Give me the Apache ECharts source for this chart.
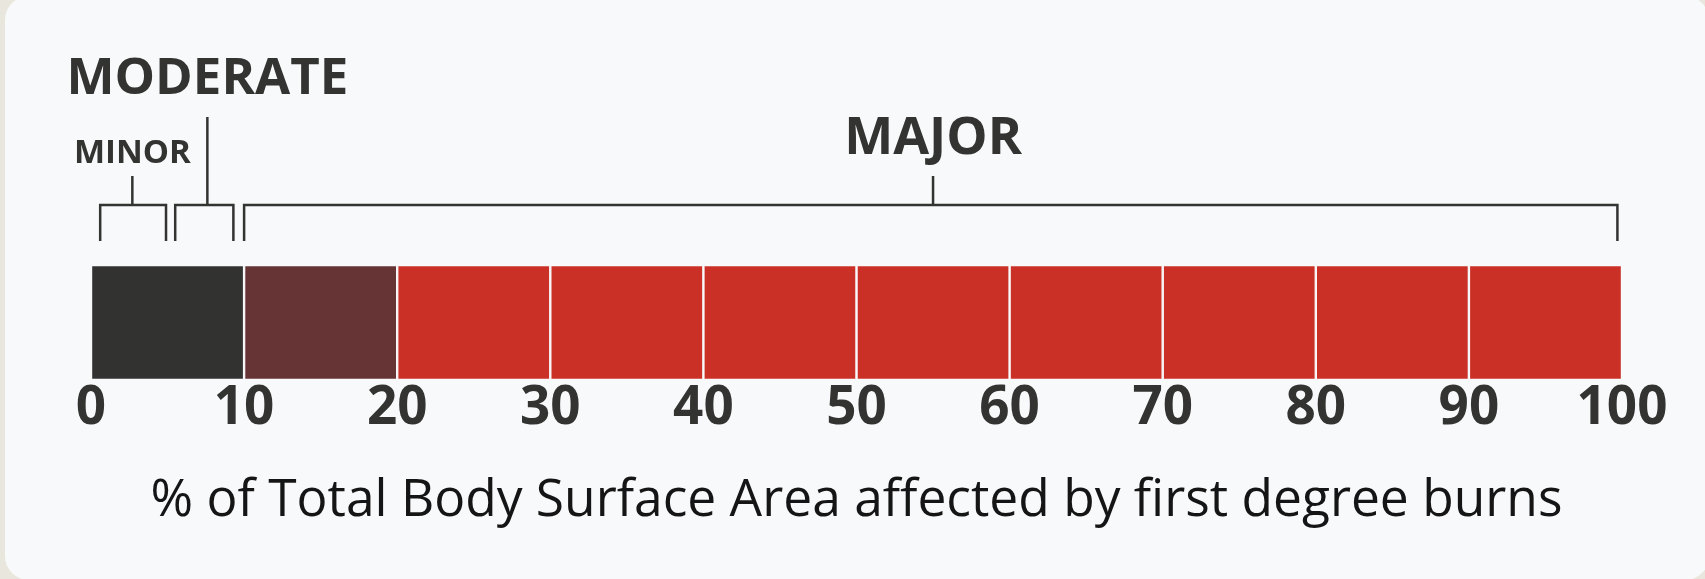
<!DOCTYPE html>
<html>
<head>
<meta charset="utf-8">
<title>Burn severity by TBSA</title>
<script src="https://cdn.jsdelivr.net/npm/echarts@6.0.0/dist/echarts.min.js"></script>
<style>
  html, body { margin: 0; padding: 0; background: #e9e6de; }
  #chart { width: 1705px; height: 579px; }
</style>
</head>
<body>
<div id="chart"></div>
<script>
// scale is split into ten 10% blocks
const segmentValues = [10, 10, 10, 10, 10, 10, 10, 10, 10, 10]
const tickLabels = ['0', '10', '20', '30', '40', '50', '60', '70', '80', '90', '100']

// severity brackets drawn above the scale (in % TBSA)
const bracketNames = ['MINOR', 'MODERATE', 'MAJOR']
const bracketFrom = [0.6, 5.5, 10]
const bracketTo = [4.9, 9.3, 99.7]
const bracketMid = [2.7, 7.6, 55]

const axisTitle = '% of Total Body Surface Area affected by first degree burns'

// styles
const segColor = i => (i === 0 ? '#323230' : i === 1 ? '#663434' : '#cb3027')
const stemLen = [29, 88, 29]
const labelSize = [33, 51, 52]
const labelGap = [22, 38, 37]

let chart = echarts.init(document.getElementById('chart'))

let barSeries = segmentValues.map((v, i) => ({
  type: 'bar',
  stack: 'tbsa',
  data: [v],
  barWidth: '100%',
  silent: true,
  itemStyle: {
    color: segColor(i),
    borderColor: '#f8f9fb',
    borderWidth: 1.2
  }
}))

let bracketSeries = {
  type: 'custom',
  clip: false,
  silent: true,
  encode: { x: [0, 2, 3], y: 1 },
  data: bracketNames.map((n, i) => [bracketFrom[i], 0, bracketTo[i], bracketMid[i], i]),
  renderItem: function (params, api) {
    let i = api.value(4)
    let x0 = api.coord([api.value(0), 0])[0]
    let x1 = api.coord([api.value(2), 0])[0]
    let xm = api.coord([api.value(3), 0])[0]
    let barTop = params.coordSys.y
    let yH = barTop - 60
    let yB = barTop - 24
    let yS = yH - stemLen[i]
    let line = { stroke: '#333331', lineWidth: 2.5, fill: null }
    return {
      type: 'group',
      children: [
        { type: 'polyline', shape: { points: [[x0, yB], [x0, yH], [x1, yH], [x1, yB]] }, style: line },
        { type: 'line', shape: { x1: xm, y1: yH, x2: xm, y2: yS }, style: line },
        {
          type: 'text',
          x: xm,
          y: yS - labelGap[i],
          style: {
            text: bracketNames[i],
            fill: '#333331',
            font: 'bold ' + labelSize[i] + 'px "Open Sans"',
            align: 'center',
            verticalAlign: 'middle'
          }
        }
      ]
    }
  }
}

let option = {
  animation: false,
  backgroundColor: '#e9e6de',
  graphic: [{
    type: 'rect',
    silent: true,
    z: -10,
    shape: { x: 5, y: -4, width: 1704, height: 584, r: 24 },
    style: { fill: '#f8f9fb' }
  }],
  grid: {
    left: 91,
    right: 83,
    top: 265,
    height: 115
  },
  xAxis: {
    type: 'value',
    min: 0,
    max: 100,
    interval: 10,
    axisLine: { show: false },
    axisTick: { show: false },
    splitLine: { show: false },
    axisLabel: {
      margin: 2,
      color: '#333331',
      fontFamily: 'Open Sans',
      fontWeight: 'bold',
      fontSize: 53,
      formatter: v => tickLabels[Math.round(v / 10)]
    },
    name: axisTitle,
    nameLocation: 'middle',
    nameGap: 95,
    nameTextStyle: {
      color: '#151515',
      fontFamily: 'Open Sans',
      fontSize: 51.5
    }
  },
  yAxis: {
    type: 'category',
    data: ['TBSA'],
    show: false
  },
  series: barSeries.concat([bracketSeries])
}

chart.setOption(option)
</script>
</body>
</html>
